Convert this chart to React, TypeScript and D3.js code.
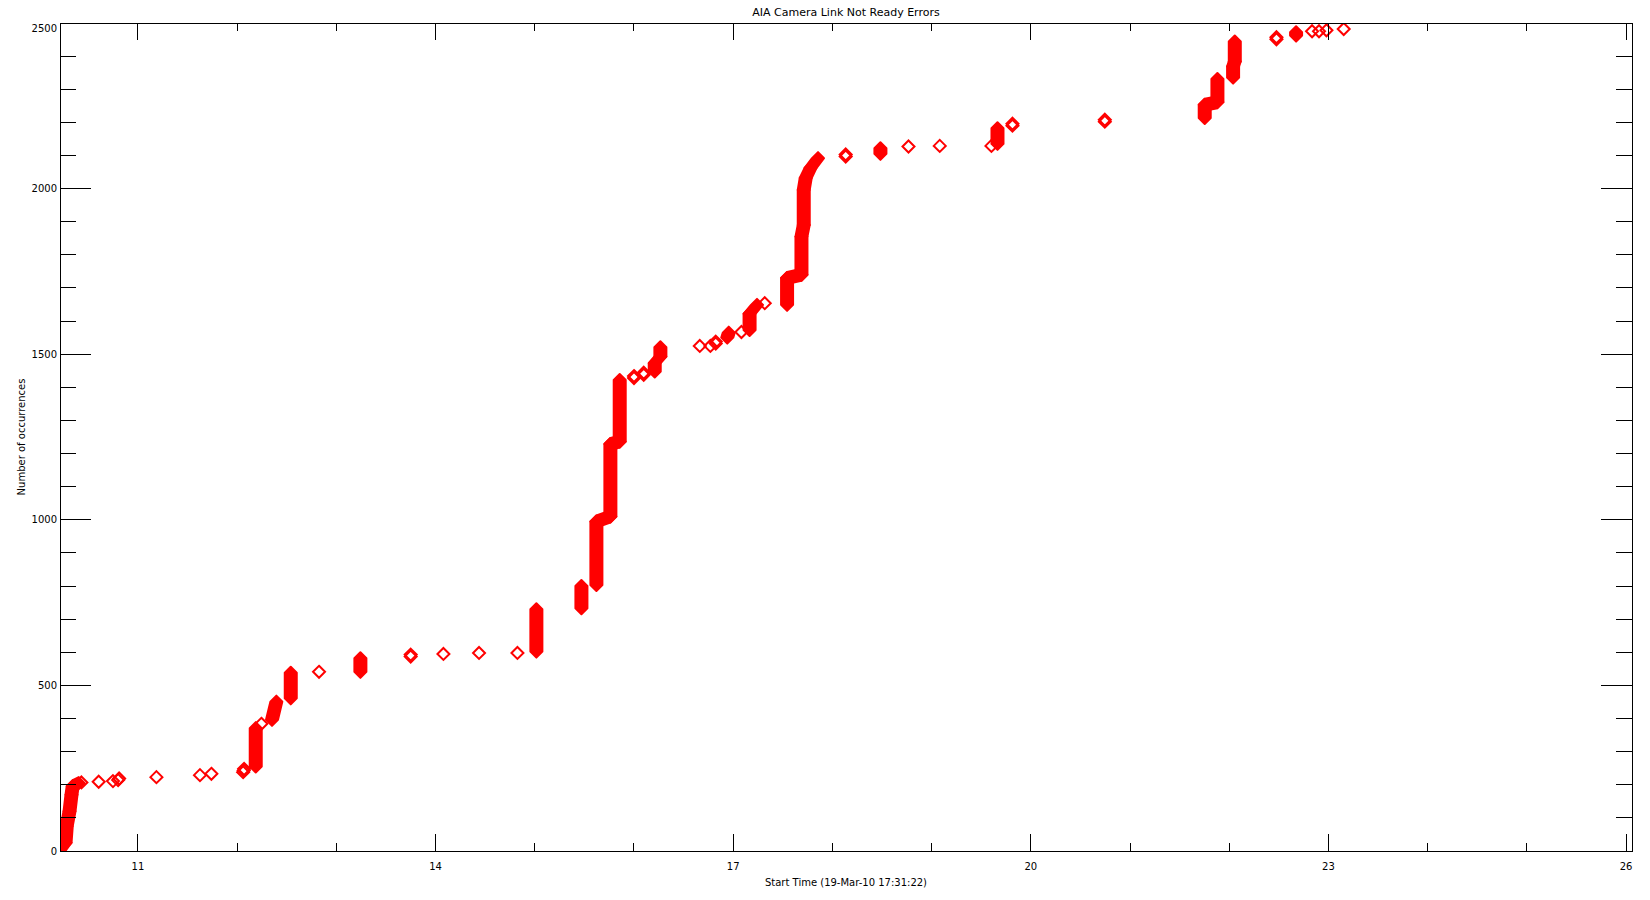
import * as d3 from "d3";

// isolated events: start time (day) and cumulative count
const singleDays = [
  10.43, 10.604, 10.748, 10.8, 10.81, 11.186, 11.625, 11.74, 12.06, 12.066, 12.07,
  12.244, 12.825, 13.749, 13.749, 14.079, 14.438, 14.825, 16.0, 16.0, 16.098, 16.098,
  16.663, 16.77, 16.824, 16.824, 17.083, 17.318, 18.134, 18.134, 18.767, 19.082,
  19.603, 19.815, 19.815, 20.746, 20.746, 22.476, 22.476, 22.835, 22.905, 22.98, 23.154,
];
const singleCounts = [
  207, 209, 211, 214, 219, 223, 229, 233, 238, 243, 248,
  384, 541, 587, 593, 595, 598, 598, 1428, 1434, 1438, 1444,
  1525, 1525, 1532, 1538, 1567, 1654, 2097, 2103, 2127, 2129,
  2129, 2190, 2196, 2202, 2208, 2451, 2457, 2475, 2475, 2478, 2482,
];

// dense runs of events (markers overlap into solid bars): [day, count] vertices
const bursts: [number, number][][] = [
  [[10.216, 3], [10.27, 25], [10.282, 75], [10.31, 120], [10.33, 170], [10.342, 196], [10.403, 205]],
  [[12.187, 255], [12.187, 371]],
  [[12.351, 396], [12.395, 451]],
  [[12.54, 461], [12.54, 538]],
  [[13.242, 541], [13.242, 582]],
  [[15.016, 602], [15.016, 730]],
  [[15.47, 733], [15.47, 800]],
  [[15.621, 803], [15.621, 995], [15.762, 1010], [15.762, 1229], [15.856, 1236], [15.856, 1422]],
  [[16.209, 1448], [16.209, 1473], [16.266, 1493], [16.266, 1521]],
  [[16.94, 1550], [16.955, 1565]],
  [[17.165, 1573], [17.165, 1622], [17.24, 1649]],
  [
    [17.543, 1649], [17.543, 1730], [17.688, 1740], [17.688, 1855], [17.711, 1890],
    [17.711, 1996], [17.731, 2032], [17.779, 2062], [17.855, 2092],
  ],
  [[18.484, 2105], [18.484, 2122]],
  [[19.664, 2135], [19.664, 2182]],
  [[21.753, 2213], [21.753, 2253], [21.881, 2261], [21.881, 2331]],
  [[22.039, 2335], [22.039, 2369], [22.056, 2384], [22.056, 2444]],
  [[22.674, 2462], [22.674, 2472]],
];

const xDomain = [10.214, 26.06];
const xMajorTicks = [11, 14, 17, 20, 23, 26];
const xMinorTicks = [12, 13, 15, 16, 18, 19, 21, 22, 24, 25];
const yMajorTicks = [0, 500, 1000, 1500, 2000, 2500];
const yMinorTicks = [100, 200, 300, 400, 600, 700, 800, 900, 1100, 1200, 1300, 1400, 1600, 1700, 1800, 1900, 2100, 2200, 2300, 2400];

const TITLE = "AIA Camera Link Not Ready Errors";
const XTITLE = "Start Time (19-Mar-10 17:31:22)";
const YTITLE = "Number of occurrences";

const W = 1650;
const H = 900;
const L = 60, R = 1632, T = 23, B = 851;
const RED = "#ff0000";
const FONT = "'DejaVu Sans', sans-serif";
const r = 6;

const diamondPts = (x: number, y: number): [number, number][] => [
  [x, y - r], [x + r, y], [x, y + r], [x - r, y],
];

export default function App() {
  const x = d3.scaleLinear().domain(xDomain).range([L, R]);
  const y = d3.scaleLinear().domain([0, 2500]).range([B, T]);
  const xMajLen = 17, xMinLen = 8, yMajLen = 31, yMinLen = 16;

  const hulls: string[] = [];
  bursts.forEach((run) => {
    for (let i = 0; i < run.length - 1; i++) {
      const a = run[i], b = run[i + 1];
      const pts = [...diamondPts(x(a[0]), y(a[1])), ...diamondPts(x(b[0]), y(b[1]))];
      const hull = d3.polygonHull(pts);
      if (hull) hulls.push("M" + hull.map((p) => p.join(",")).join("L") + "Z");
    }
  });

  return (
    <svg
      width={W}
      height={H}
      style={{ position: "absolute", left: 0, top: 0, background: "#fff" }}
      fontFamily={FONT}
    >
      <defs>
        <clipPath id="plotclip">
          <rect x={L} y={T} width={R - L} height={B - T} />
        </clipPath>
      </defs>
      <rect width={W} height={H} fill="#fff" />

      <g clipPath="url(#plotclip)">
        {hulls.map((d, i) => (
          <path key={"h" + i} d={d} fill={RED} stroke={RED} strokeWidth={2} strokeLinejoin="round" />
        ))}
        {singleDays.map((t, i) => {
          const cx = x(t), cy = y(singleCounts[i]);
          return (
            <path
              key={"s" + i}
              d={`M${cx},${cy - r}L${cx + r},${cy}L${cx},${cy + r}L${cx - r},${cy}Z`}
              fill="none"
              stroke={RED}
              strokeWidth={2}
            />
          );
        })}
      </g>

      <g stroke="#000" strokeWidth={1} fill="none" shapeRendering="crispEdges">
        <rect x={L + 0.5} y={T + 0.5} width={R - L} height={B - T} />
        {xMajorTicks.map((t) => (
          <g key={"xM" + t}>
            <line x1={x(t)} x2={x(t)} y1={B} y2={B - xMajLen} />
            <line x1={x(t)} x2={x(t)} y1={T} y2={T + xMajLen} />
          </g>
        ))}
        {xMinorTicks.map((t) => (
          <g key={"xm" + t}>
            <line x1={x(t)} x2={x(t)} y1={B} y2={B - xMinLen} />
            <line x1={x(t)} x2={x(t)} y1={T} y2={T + xMinLen} />
          </g>
        ))}
        {yMajorTicks.map((v) => (
          <g key={"yM" + v}>
            <line x1={L} x2={L + yMajLen} y1={y(v)} y2={y(v)} />
            <line x1={R} x2={R - yMajLen} y1={y(v)} y2={y(v)} />
          </g>
        ))}
        {yMinorTicks.map((v) => (
          <g key={"ym" + v}>
            <line x1={L} x2={L + yMinLen} y1={y(v)} y2={y(v)} />
            <line x1={R} x2={R - yMinLen} y1={y(v)} y2={y(v)} />
          </g>
        ))}
      </g>

      <g fontSize={10} fill="#000">
        {xMajorTicks.map((t) => (
          <text key={"xl" + t} x={x(t)} y={866} textAnchor="middle" dominantBaseline="central">
            {t}
          </text>
        ))}
        {yMajorTicks.map((v) => (
          <text key={"yl" + v} x={L - 3} y={Math.max(y(v), T + 5)} textAnchor="end" dominantBaseline="central">
            {v}
          </text>
        ))}
        <text x={(L + R) / 2} y={882} textAnchor="middle" dominantBaseline="central">
          {XTITLE}
        </text>
        <text
          transform={`translate(21,${(T + B) / 2}) rotate(-90)`}
          textAnchor="middle"
          dominantBaseline="central"
        >
          {YTITLE}
        </text>
        <text x={(L + R) / 2} y={12.5} fontSize={11} textAnchor="middle" dominantBaseline="central">
          {TITLE}
        </text>
      </g>
    </svg>
  );
}
